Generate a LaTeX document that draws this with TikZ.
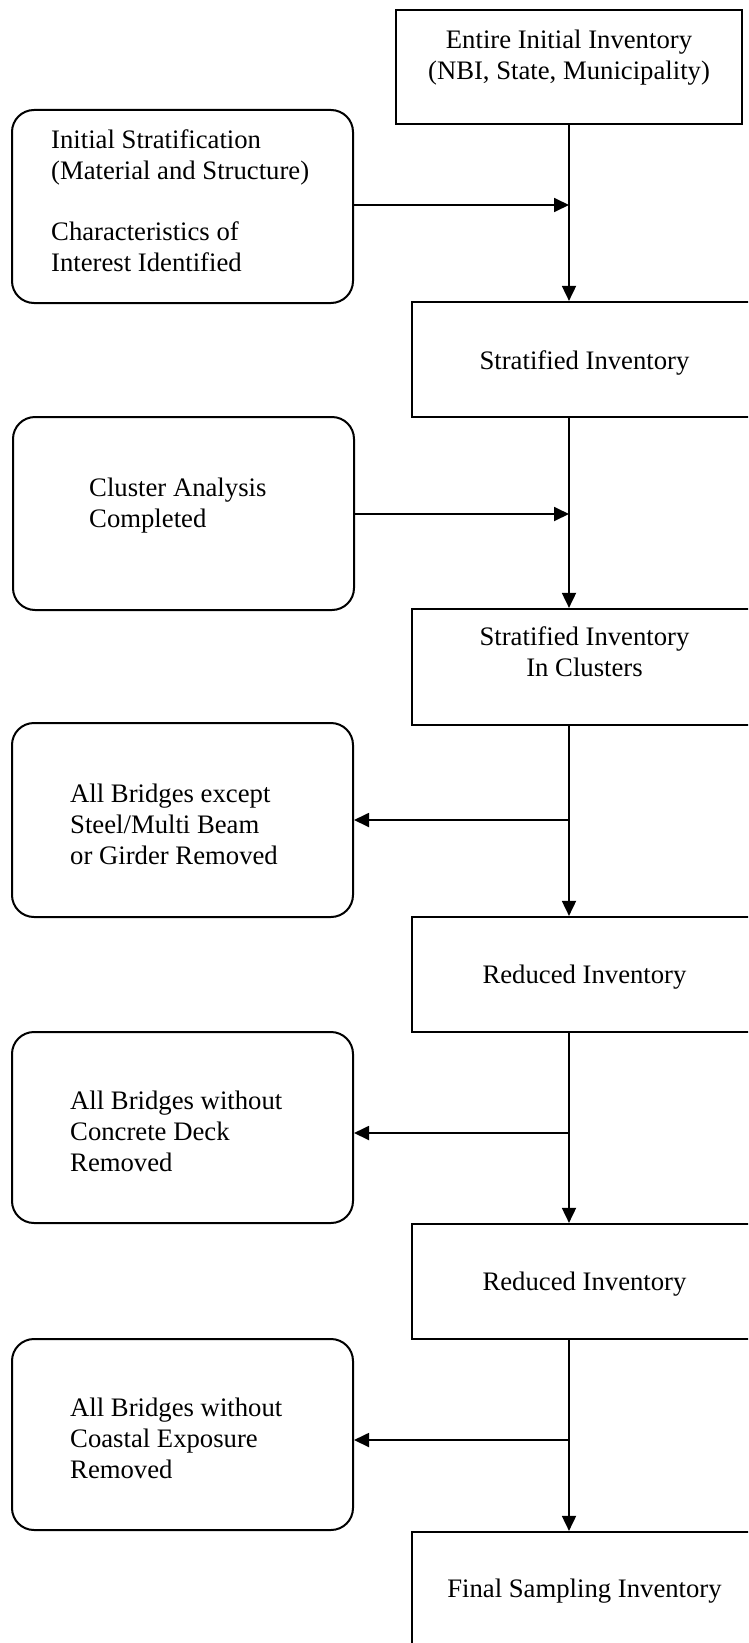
\documentclass[tikz,border=0pt]{standalone}
\usepackage{fontspec}
\setmainfont{Liberation Serif}
\usetikzlibrary{arrows.meta}

\begin{document}
\begin{tikzpicture}[x=1pt,y=-1pt,
  stage/.style={draw, line width=2.2pt, rectangle, inner sep=0pt, minimum width=344pt, minimum height=115pt},
  action/.style={draw, line width=2pt, rectangle, rounded corners=22pt, inner sep=0pt, minimum width=341pt},
  txt/.style={inner sep=0pt, font=\fontsize{26.7}{31}\selectfont},
  flow/.style={line width=1.8pt, -{Triangle[length=15pt,width=14pt]}}]

\useasboundingbox (0,0) rectangle (748,1643);
\clip (0,0) rectangle (748,1643);

% inventory stages (right column)
\node[stage, minimum width=346pt, minimum height=114pt] (b1) at (569,67) {};
\node[stage] (b2) at (584,359.5) {};
\node[stage, minimum height=116pt] (b3) at (584,667) {};
\node[stage] (b4) at (584,974.5) {};
\node[stage] (b5) at (584,1281.5) {};
\node[stage] (b6) at (584,1589.5) {};

\node[txt, anchor=north, align=center] (s1) at (569,26.3)
  {\strut Entire Initial Inventory\\(NBI, State, Municipality)};
\node[txt, anchor=base] (s2) at (584.5,369) {Stratified Inventory};
\node[txt, anchor=north, align=center] (s3) at (584.5,623.3)
  {\strut Stratified Inventory\\In Clusters};
\node[txt, anchor=base] (s4) at (584.5,983) {Reduced Inventory};
\node[txt, anchor=base] (s5) at (584.5,1290) {Reduced Inventory};
\node[txt, anchor=base] (s6) at (584.5,1597) {Final Sampling Inventory};

% processing steps (left column)
\node[action, minimum height=193pt] (r1) at (182.5,206.5) {};
\node[action, minimum height=193pt] (r2) at (183.5,513.5) {};
\node[action, minimum height=194pt] (r3) at (182.5,820) {};
\node[action, minimum height=191pt] (r4) at (182.5,1127.5) {};
\node[action, minimum height=191pt] (r5) at (182.5,1434.5) {};

\node[txt, anchor=north west, align=left] (a1) at (51,126.3)
  {\strut Initial Stratification\\(Material and Structure)\\[30pt]Characteristics of\\Interest Identified};
\node[txt, anchor=north west, align=left] (a2) at (89,474.3)
  {\strut Cluster Analysis\\Completed};
\node[txt, anchor=north west, align=left] (a3) at (70,780.3)
  {\strut All Bridges except\\Steel/Multi Beam\\or Girder Removed};
\node[txt, anchor=north west, align=left] (a4) at (70,1087.3)
  {\strut All Bridges without\\Concrete Deck\\Removed};
\node[txt, anchor=north west, align=left] (a5) at (70,1394.3)
  {\strut All Bridges without\\Coastal Exposure\\Removed};

% junctions on the main flow line
\coordinate (j1) at (569,205);
\coordinate (j2) at (569,514);
\coordinate (j3) at (569,820);
\coordinate (j4) at (569,1133);
\coordinate (j5) at (569,1440);

% main flow
\draw[flow] (b1.south) -- (b2.north -| j1);
\draw[flow] (b2.south -| j2) -- (b3.north -| j2);
\draw[flow] (b3.south -| j3) -- (b4.north -| j3);
\draw[flow] (b4.south -| j4) -- (b5.north -| j4);
\draw[flow] (b5.south -| j5) -- (b6.north -| j5);

% side connections
\draw[flow] (r1.east |- j1) -- (j1);
\draw[flow] (r2.east |- j2) -- (j2);
\draw[flow] (j3) -- (r3.east |- j3);
\draw[flow] (j4) -- (r4.east |- j4);
\draw[flow] (j5) -- (r5.east |- j5);
\end{tikzpicture}
\end{document}
